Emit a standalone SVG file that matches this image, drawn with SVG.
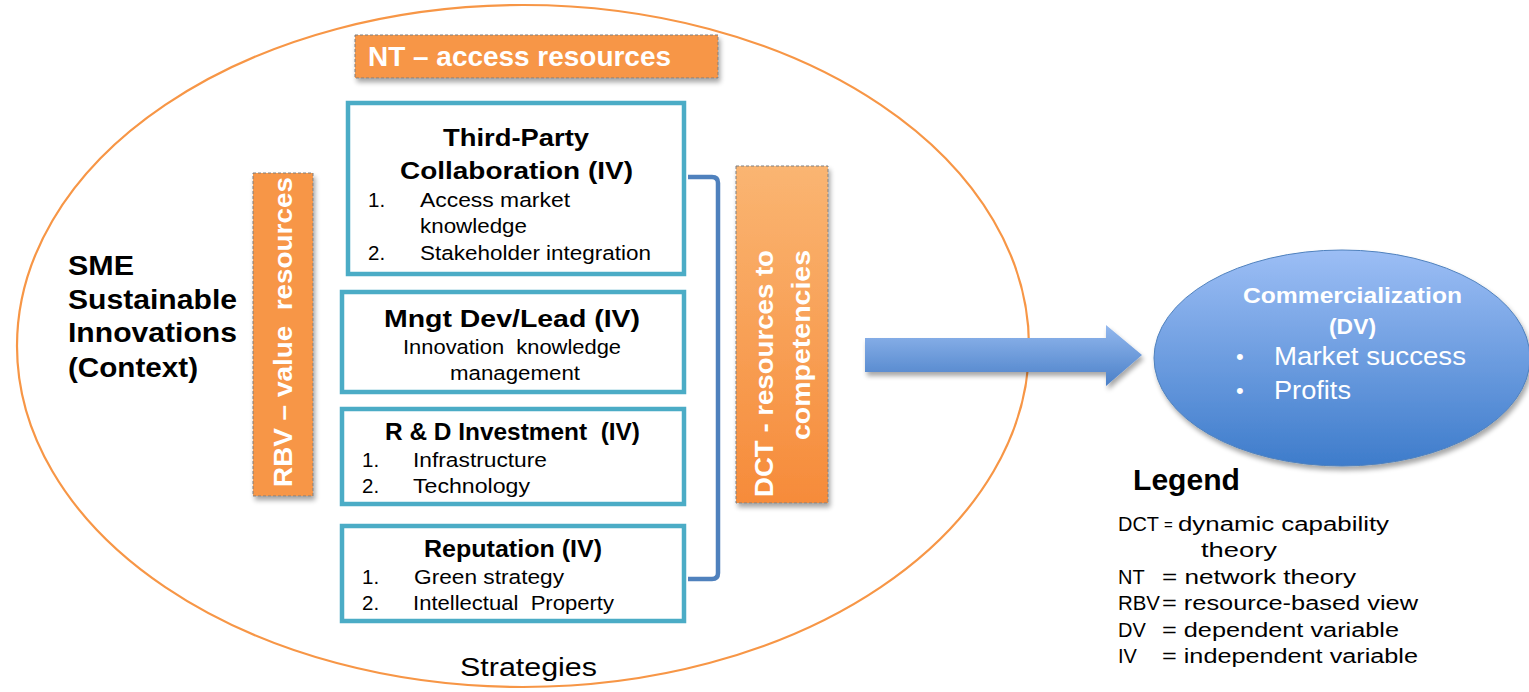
<svg xmlns="http://www.w3.org/2000/svg" width="1529" height="692" viewBox="0 0 1529 692">
<style>
text{font-family:"Liberation Sans",Arial,sans-serif;fill:#000}
.b{font-weight:bold}
.w{fill:#fff}
.box{fill:#fff;stroke:#4BACC6;stroke-width:4.5}
.org{fill:#F79646;stroke:#7f7f7f;stroke-width:1;stroke-dasharray:3 2}
.t{font-size:24px;font-weight:bold}
.i{font-size:20.5px}
.lg{font-size:20px}
</style>
<defs>
<linearGradient id="dctg" x1="0" y1="0" x2="0" y2="1">
<stop offset="0" stop-color="#FAB572"/><stop offset="1" stop-color="#F68B3A"/>
</linearGradient>
<linearGradient id="blueg" x1="0" y1="0" x2="0" y2="1">
<stop offset="0" stop-color="#9CBEF5"/><stop offset="1" stop-color="#3E7CCB"/>
</linearGradient>
<linearGradient id="arrg" x1="0" y1="0" x2="0" y2="1">
<stop offset="0" stop-color="#93B8EE"/><stop offset="1" stop-color="#4A80C8"/>
</linearGradient>
<filter id="sh" x="-20%" y="-20%" width="140%" height="150%">
<feGaussianBlur in="SourceAlpha" stdDeviation="2.5"/>
<feOffset dx="2" dy="4" result="o"/>
<feComponentTransfer><feFuncA type="linear" slope="0.35"/></feComponentTransfer>
<feMerge><feMergeNode/><feMergeNode in="SourceGraphic"/></feMerge>
</filter>
</defs>
<rect width="1529" height="692" fill="#fff"/>

<g id="context">
<ellipse cx="523" cy="346" rx="506" ry="341" fill="none" stroke="#F79646" stroke-width="2.2"/>
<text class="b" font-size="27" x="68" y="275" textLength="66" lengthAdjust="spacingAndGlyphs">SME</text>
<text class="b" font-size="27" x="68" y="309" textLength="169" lengthAdjust="spacingAndGlyphs">Sustainable</text>
<text class="b" font-size="27" x="68" y="342" textLength="169" lengthAdjust="spacingAndGlyphs">Innovations</text>
<text class="b" font-size="27" x="68" y="377" textLength="130" lengthAdjust="spacingAndGlyphs">(Context)</text>
<text font-size="26" x="460" y="676" textLength="137" lengthAdjust="spacingAndGlyphs">Strategies</text>
</g>

<g id="nt">
<rect class="org" x="355" y="35" width="363" height="43" filter="url(#sh)"/>
<text class="b w" font-size="27" x="368" y="66" textLength="303" lengthAdjust="spacingAndGlyphs">NT – access resources</text>
</g>

<g id="rbv">
<rect class="org" x="253" y="173" width="60" height="323" filter="url(#sh)"/>
<text class="b w" font-size="25" transform="translate(292,487) rotate(-90)" textLength="310" lengthAdjust="spacingAndGlyphs" xml:space="preserve">RBV – value  resources</text>
</g>

<g id="dct">
<rect x="736" y="166" width="92" height="337" fill="url(#dctg)" stroke="#7f7f7f" stroke-width="1" stroke-dasharray="3 2" filter="url(#sh)"/>
<text class="b w" font-size="25" transform="translate(773,497) rotate(-90)" textLength="247" lengthAdjust="spacingAndGlyphs">DCT - resources to</text>
<text class="b w" font-size="25" transform="translate(810,440) rotate(-90)" textLength="190" lengthAdjust="spacingAndGlyphs">competencies</text>
</g>

<g id="third-party">
<rect class="box" x="348" y="103" width="336" height="171"/>
<text class="t" x="443" y="146" textLength="146" lengthAdjust="spacingAndGlyphs">Third-Party</text>
<text class="t" x="400" y="179" textLength="233" lengthAdjust="spacingAndGlyphs">Collaboration (IV)</text>
<text class="i" x="368" y="207">1.</text><text class="i" x="420" y="207" textLength="150" lengthAdjust="spacingAndGlyphs">Access market</text>
<text class="i" x="420" y="233" textLength="107" lengthAdjust="spacingAndGlyphs">knowledge</text>
<text class="i" x="368" y="260">2.</text><text class="i" x="420" y="260" textLength="231" lengthAdjust="spacingAndGlyphs">Stakeholder integration</text>
</g>

<g id="mngt">
<rect class="box" x="342" y="292" width="342" height="100"/>
<text class="t" x="384" y="327" textLength="256" lengthAdjust="spacingAndGlyphs">Mngt Dev/Lead (IV)</text>
<text class="i" x="403" y="354" textLength="218" lengthAdjust="spacingAndGlyphs" xml:space="preserve">Innovation  knowledge</text>
<text class="i" x="450" y="380" textLength="130" lengthAdjust="spacingAndGlyphs">management</text>
</g>

<g id="rnd">
<rect class="box" x="342" y="409" width="342" height="95"/>
<text class="t" x="385" y="440" textLength="255" lengthAdjust="spacingAndGlyphs" xml:space="preserve">R &amp; D Investment  (IV)</text>
<text class="i" x="362" y="467">1.</text><text class="i" x="413" y="467" textLength="134" lengthAdjust="spacingAndGlyphs">Infrastructure</text>
<text class="i" x="362" y="493">2.</text><text class="i" x="413" y="493" textLength="117" lengthAdjust="spacingAndGlyphs">Technology</text>
</g>

<g id="reputation">
<rect class="box" x="342" y="526" width="342" height="95"/>
<text class="t" x="424" y="557" textLength="178" lengthAdjust="spacingAndGlyphs">Reputation (IV)</text>
<text class="i" x="362" y="584">1.</text><text class="i" x="414" y="584" textLength="150" lengthAdjust="spacingAndGlyphs">Green strategy</text>
<text class="i" x="362" y="610">2.</text><text class="i" x="413" y="610" textLength="201" lengthAdjust="spacingAndGlyphs" xml:space="preserve">Intellectual  Property</text>
</g>

<g id="connectors">
<path d="M688,177 H712 Q718,177 718,183 V573 Q718,579 712,579 H688" fill="none" stroke="#4F81BD" stroke-width="4.5"/>
<path d="M865,338 H1106 V325 L1142,355 L1106,386 V372 H865 Z" fill="url(#arrg)" filter="url(#sh)"/>
</g>

<g id="commercialization">
<ellipse cx="1342" cy="358" rx="188" ry="108" fill="url(#blueg)" stroke="#4F81BD" stroke-width="1" filter="url(#sh)"/>
<text class="w b" font-size="22" x="1243" y="303" textLength="219" lengthAdjust="spacingAndGlyphs">Commercialization</text>
<text class="w b" font-size="22" x="1329" y="334" textLength="47" lengthAdjust="spacingAndGlyphs">(DV)</text>
<text class="w" font-size="22" x="1236" y="364">•</text>
<text class="w" font-size="26" x="1274" y="365" textLength="192" lengthAdjust="spacingAndGlyphs">Market success</text>
<text class="w" font-size="22" x="1236" y="398">•</text>
<text class="w" font-size="26" x="1274" y="399" textLength="77" lengthAdjust="spacingAndGlyphs">Profits</text>
</g>

<g id="legend">
<text class="b" font-size="29" x="1133" y="490" textLength="107" lengthAdjust="spacingAndGlyphs">Legend</text>
<text class="lg" x="1118" y="531" textLength="41" lengthAdjust="spacingAndGlyphs">DCT</text><text font-size="15" x="1164" y="530">=</text><text class="lg" x="1178" y="531" textLength="211" lengthAdjust="spacingAndGlyphs">dynamic capability</text>
<text class="lg" x="1201" y="557" textLength="76" lengthAdjust="spacingAndGlyphs">theory</text>
<text class="lg" x="1118" y="584">NT</text><text class="lg" x="1162" y="584" textLength="194" lengthAdjust="spacingAndGlyphs">= network theory</text>
<text class="lg" x="1118" y="610" textLength="42" lengthAdjust="spacingAndGlyphs">RBV</text><text class="lg" x="1162" y="610" textLength="256" lengthAdjust="spacingAndGlyphs">= resource-based view</text>
<text class="lg" x="1118" y="637">DV</text><text class="lg" x="1162" y="637" textLength="237" lengthAdjust="spacingAndGlyphs">= dependent variable</text>
<text class="lg" x="1118" y="663">IV</text><text class="lg" x="1162" y="663" textLength="256" lengthAdjust="spacingAndGlyphs">= independent variable</text>
</g>
</svg>
